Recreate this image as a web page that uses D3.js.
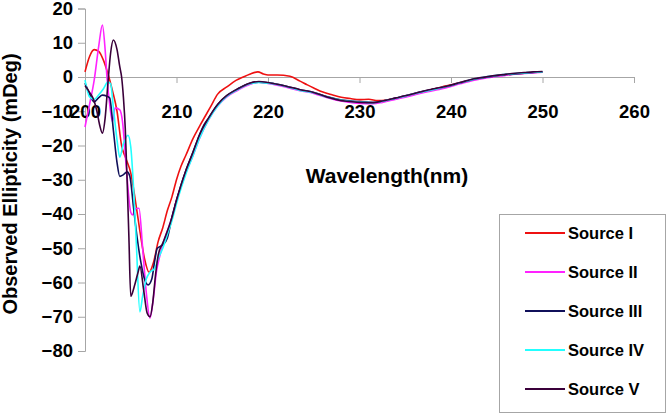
<!DOCTYPE html>
<html>
<head>
<meta charset="utf-8">
<script src="https://cdn.jsdelivr.net/npm/d3@7"></script>
<style>
  body { margin: 0; background: #fff; }
  text { font-family: "Liberation Sans", Arial, sans-serif; font-weight: bold; fill: #000; }
</style>
</head>
<body>
<div id="chart"></div>
<script>
var width = 667,
    height = 415;

// wavelength (nm), observed ellipticity (mDeg)
var sourceI = [[200,1.5],[200.5,6],[201,8],[201.5,7.5],[202,5],[202.5,1],[203,-4],[203.5,-10],[204,-20],[204.5,-24],[205,-28],[205.5,-36],[206,-45],[206.5,-53],[207,-57],[207.5,-54],[208,-48],[208.5,-44],[209,-39],[209.5,-35],[210,-30],[210.5,-26],[211,-23],[211.8,-18],[212.6,-14],[213.7,-8.8],[214.5,-5],[215.5,-2.9],[216.5,-1],[217.3,0],[218,0.8],[218.9,1.5],[219.5,0.9],[220,0.6],[221,0.6],[222.4,0.2],[223.5,-1.2],[224.3,-2.3],[225,-3.2],[226,-4.4],[227,-5.2],[228,-5.9],[229,-6.3],[230,-6.6],[231,-6.5],[232,-6.9],[233,-6.7],[234,-6.2],[235,-5.7],[236,-5],[237,-4.3],[238,-3.6],[239,-2.9],[240,-2.3],[241,-1.6],[242,-1],[243,-0.5],[244,0],[245,0.4],[246,0.7],[247,0.9],[248,1.1],[249,1.4],[250,1.5]];

var sourceII = [[200,-14.6],[200.5,-8],[201,-1],[201.5,9],[201.9,15.2],[202.2,8],[202.4,0],[202.7,-8],[203,-13],[203.3,-9],[203.8,-9.6],[204.1,-13],[204.5,-26],[205,-39.5],[205.2,-40.3],[205.5,-38.5],[205.9,-38.3],[206.3,-50],[206.7,-63],[207.1,-70.4],[207.5,-64],[207.8,-57],[208.2,-52],[208.6,-48],[209,-45],[209.5,-41],[210,-36],[210.5,-32],[211,-28],[211.8,-23],[212.5,-18],[213.5,-12.5],[214.5,-8.5],[215.5,-5.8],[216.6,-4],[218,-2.2],[219,-1.5],[220,-1.9],[221,-2.4],[222,-3],[223.5,-4],[225,-4.8],[226.4,-6],[227.5,-6.8],[228.6,-7.3],[230,-7.7],[231.5,-7.8],[232.5,-7.4],[234,-6.5],[235,-5.9],[236.6,-4.8],[238,-4],[239.5,-3.1],[241,-2],[242.4,-1],[244,-0.2],[245.7,0.4],[247,0.8],[248,1],[249,1.2],[250,1.4]];

var sourceIII = [[200,-1.8],[200.5,-5],[201,-7.3],[201.5,-6],[201.9,-5.3],[202.4,-5.6],[202.7,-6.1],[203.1,-15.5],[203.5,-25],[203.8,-29],[204.2,-28.5],[204.6,-27.7],[204.9,-29],[205.3,-38],[205.7,-47],[206.1,-54],[206.5,-59],[206.9,-60.7],[207.3,-59],[207.6,-54],[207.9,-50],[208.5,-49],[209,-47],[209.5,-41],[210,-36],[210.5,-31.5],[211,-27.5],[211.8,-22],[212.5,-17],[213,-14],[213.5,-12],[214.5,-8],[215.5,-5.5],[216.6,-3.6],[218,-1.8],[219,-1.5],[220,-1.7],[221,-2.1],[222,-2.7],[223.5,-3.7],[225,-4.5],[226.4,-5.7],[227.5,-6.4],[228.6,-6.9],[230,-7.2],[231.5,-7.4],[232.5,-7],[234,-6.1],[235,-5.5],[236.6,-4.4],[238,-3.6],[239.5,-2.8],[241,-1.7],[242.4,-0.7],[244,0],[245.7,0.6],[247,0.9],[248,1.1],[249,1.3],[250,1.5]];

var sourceIV = [[200,-0.9],[200.5,-5.8],[201,-6.5],[201.5,-5.2],[202,-3.5],[202.5,-1.5],[202.8,-2],[203.1,-9],[203.5,-18.4],[203.8,-23.4],[204.2,-19.5],[204.7,-17],[205,-20.4],[205.3,-32],[205.6,-48],[206,-68.6],[206.3,-64],[206.7,-59],[207.1,-57],[207.6,-56],[208,-53],[208.5,-50],[209,-46],[209.5,-42],[210,-37],[210.5,-32.5],[211,-28.5],[211.8,-23],[212.5,-18],[213.5,-12.5],[214.5,-8.5],[215.5,-5.6],[216.6,-3.8],[218,-2],[219,-1.6],[220,-1.8],[221,-2.2],[222,-2.8],[223.5,-3.9],[225,-4.6],[226.4,-5.8],[227.5,-6.5],[228.6,-7],[230,-7.3],[231.5,-7.5],[232.5,-7.1],[234,-6.2],[235,-5.6],[236.6,-4.5],[238,-3.7],[239.5,-2.8],[241,-1.7],[242.4,-0.7],[244,0.1],[245.7,0.7],[247,1],[248,1.2],[249,1.4],[250,1.5]];

var sourceV = [[200,-2.5],[200.5,-4.5],[201,-7],[201.3,-10],[201.6,-14],[201.9,-16.4],[202.2,-12],[202.5,-2],[202.8,7],[203.1,10.8],[203.5,8],[203.8,3],[204,0],[204.2,-6],[204.4,-15],[204.6,-30],[204.8,-47],[205,-64],[205.4,-61],[205.8,-57],[206,-55.2],[206.4,-62],[206.8,-69],[207.1,-70],[207.4,-66],[207.7,-58],[208,-52],[208.5,-48.5],[209,-45],[209.5,-41],[210,-36],[210.5,-31.5],[211,-27.5],[211.8,-22],[212.5,-17],[213.5,-12],[214.5,-8],[215.5,-5.4],[216.6,-3.6],[218,-1.8],[219,-1.3],[220,-1.6],[221,-2.1],[222,-2.7],[223.5,-3.7],[225,-4.5],[226.4,-5.8],[227.5,-6.6],[228.6,-7.1],[230,-7.4],[231.5,-7.5],[232.5,-7],[234,-6.1],[235,-5.5],[236.6,-4.4],[238,-3.5],[239.5,-2.7],[241,-1.6],[242.4,-0.6],[244,0.1],[245.7,0.7],[247,1.1],[248,1.3],[249,1.5],[250,1.6]];

var seriesNames = ["Source I", "Source II", "Source III", "Source IV", "Source V"];
var seriesData = [sourceI, sourceII, sourceIII, sourceIV, sourceV];
var seriesColors = ["#ee1111", "#ff22ff", "#10105a", "#22ffff", "#3a003a"];

var xTicks = [200, 210, 220, 230, 240, 250, 260];
var yTicks = [-80, -70, -60, -50, -40, -30, -20, -10, 0, 10, 20];

var x = d3.scaleLinear().domain([200, 260]).range([85, 634]);
var y = d3.scaleLinear().domain([-80, 20]).range([351, 8.5]);

var svg = d3.select("#chart").append("svg")
  .attr("width", width)
  .attr("height", height);

var axisColor = "#a6a6a6";

// y axis
var gy = svg.append("g")
  .attr("transform", "translate(" + x(200) + ",0)")
  .call(d3.axisLeft(y).tickValues(yTicks).tickSize(7).tickPadding(5).tickFormat(d3.format("d")));

// x axis sits on y = 0
var gx = svg.append("g")
  .attr("transform", "translate(0," + y(0) + ")")
  .call(d3.axisBottom(x).tickValues(xTicks).tickSize(6).tickPadding(22).tickFormat(d3.format("d")));

[gx, gy].forEach(function(g) {
  g.select(".domain").attr("stroke", axisColor);
  g.selectAll(".tick line").attr("stroke", axisColor);
  g.selectAll(".tick text")
    .attr("fill", "#000")
    .style("font-family", "'Liberation Sans', Arial, sans-serif")
    .style("font-weight", "bold")
    .style("font-size", "18.5px");
});

// lines
var line = d3.line()
  .x(function(d) { return x(d[0]); })
  .y(function(d) { return y(d[1]); })
  .curve(d3.curveMonotoneX);

svg.append("g").selectAll("path")
  .data(seriesData)
  .enter().append("path")
    .attr("d", line)
    .attr("fill", "none")
    .attr("stroke", function(d, i) { return seriesColors[i]; })
    .attr("stroke-width", 1.6)
    .attr("stroke-linejoin", "round");

// axis titles
svg.append("text")
  .attr("x", 387)
  .attr("y", 183)
  .attr("text-anchor", "middle")
  .style("font-size", "21px")
  .text("Wavelength(nm)");

svg.append("text")
  .attr("transform", "translate(17,184) rotate(-90)")
  .attr("text-anchor", "middle")
  .style("font-size", "20px")
  .text("Observed Ellipticity (mDeg)");

// legend
var legend = svg.append("g");
legend.append("rect")
  .attr("x", 499.5)
  .attr("y", 214.5)
  .attr("width", 166)
  .attr("height", 198)
  .attr("fill", "#fff")
  .attr("stroke", axisColor);

var item = legend.selectAll(".item")
  .data(seriesNames)
  .enter().append("g")
    .attr("transform", function(d, i) { return "translate(0," + (233 + i * 39) + ")"; });

item.append("line")
  .attr("x1", 525).attr("x2", 565)
  .attr("stroke", function(d, i) { return seriesColors[i]; })
  .attr("stroke-width", 2);

item.append("text")
  .attr("x", 568)
  .attr("dy", "0.35em")
  .style("font-size", "16.5px")
  .text(function(d) { return d; });
</script>
</body>
</html>
